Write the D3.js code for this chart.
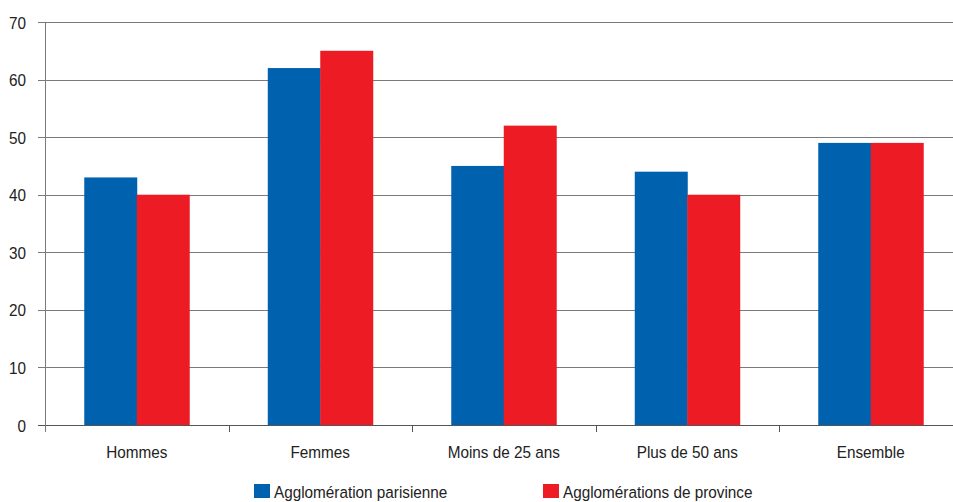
<!DOCTYPE html>
<html>
<head>
<meta charset="utf-8">
<script src="https://cdn.jsdelivr.net/npm/d3@7"></script>
<style>
  body { margin: 0; background: #fff; }
  svg text { font-family: "Liberation Sans", Arial, sans-serif; fill: #222; }
</style>
</head>
<body>
<svg id="chart" width="953" height="502"></svg>
<script>
const categories = ["Hommes", "Femmes", "Moins de 25 ans", "Plus de 50 ans", "Ensemble"]
const parisienne = [43, 62, 45, 44, 49]
const province = [40, 65, 52, 40, 49]
const seriesNames = ["Agglomération parisienne", "Agglomérations de province"]
const seriesColours = ["#0061ae", "#ed1c24"]
const yTicks = [0, 10, 20, 30, 40, 50, 60, 70]

const svg = d3.select("#chart")
const plotLeft = 45, plotTop = 22, plotBottom = 425
const bandW = 183.5
// the reference type is a little condensed
const squeeze = 0.9

const x = d3.scaleBand()
    .domain(categories)
    .range([plotLeft, plotLeft + bandW * categories.length])
    .paddingInner(0)
    .paddingOuter(0)

const inner = d3.scaleBand()
    .domain([0, 1])
    .range([0, x.bandwidth()])
    .paddingOuter(0.748)
    .paddingInner(0)

const y = d3.scaleLinear()
    .domain([0, 70])
    .range([plotBottom, plotTop])

// grid lines
svg.append("g")
    .selectAll("line")
    .data(yTicks)
    .enter()
    .append("line")
    .attr("x1", plotLeft - 7)
    .attr("x2", 953)
    .attr("y1", d => Math.round(y(d)) + 0.5)
    .attr("y2", d => Math.round(y(d)) + 0.5)
    .style("stroke", d => d == 0 ? "#555" : "#7a7a7a")
    .style("stroke-width", 1)

// y tick labels
svg.append("g")
    .selectAll("text")
    .data(yTicks)
    .enter()
    .append("text")
    .attr("transform", d => `translate(26,${y(d) + 6.5}) scale(${squeeze},1)`)
    .attr("text-anchor", "end")
    .style("font-size", "17px")
    .text(d => d)

// bars
const data = categories.map((c, i) => ({cat: c, values: [parisienne[i], province[i]]}))

svg.append("g")
    .selectAll("g")
    .data(data)
    .enter()
    .append("g")
    .attr("transform", d => `translate(${x(d.cat)},0)`)
    .selectAll("rect")
    .data(d => d.values.map((v, k) => ({k: k, v: v})))
    .enter()
    .append("rect")
    .attr("x", d => inner(d.k))
    .attr("width", inner.bandwidth() + 0.5)
    .attr("y", d => y(d.v))
    .attr("height", d => plotBottom - y(d.v))
    .style("fill", d => seriesColours[d.k])

// y axis line
svg.append("line")
    .attr("x1", plotLeft + 0.5).attr("x2", plotLeft + 0.5)
    .attr("y1", plotTop).attr("y2", plotBottom + 7)
    .style("stroke", "#7a7a7a")

// x ticks at band edges
svg.append("g")
    .selectAll("line")
    .data(categories)
    .enter()
    .append("line")
    .attr("x1", d => Math.round(x(d) + x.bandwidth()) + 0.5)
    .attr("x2", d => Math.round(x(d) + x.bandwidth()) + 0.5)
    .attr("y1", plotBottom)
    .attr("y2", plotBottom + 7)
    .style("stroke", "#555")

// category labels
svg.append("g")
    .selectAll("text")
    .data(categories)
    .enter()
    .append("text")
    .attr("transform", d => `translate(${x(d) + x.bandwidth() / 2},458) scale(${squeeze},1)`)
    .attr("text-anchor", "middle")
    .style("font-size", "17px")
    .text(d => d)

// legend
const legendX = [254, 543]
const legend = svg.append("g")
    .selectAll("g")
    .data(seriesNames)
    .enter()
    .append("g")
    .attr("transform", (d, i) => `translate(${legendX[i]},484)`)

legend.append("rect")
    .attr("width", 16)
    .attr("height", 14)
    .style("fill", (d, i) => seriesColours[i])

legend.append("text")
    .attr("transform", `translate(20,14) scale(${squeeze},1)`)
    .style("font-size", "17px")
    .text(d => d)
</script>
</body>
</html>
